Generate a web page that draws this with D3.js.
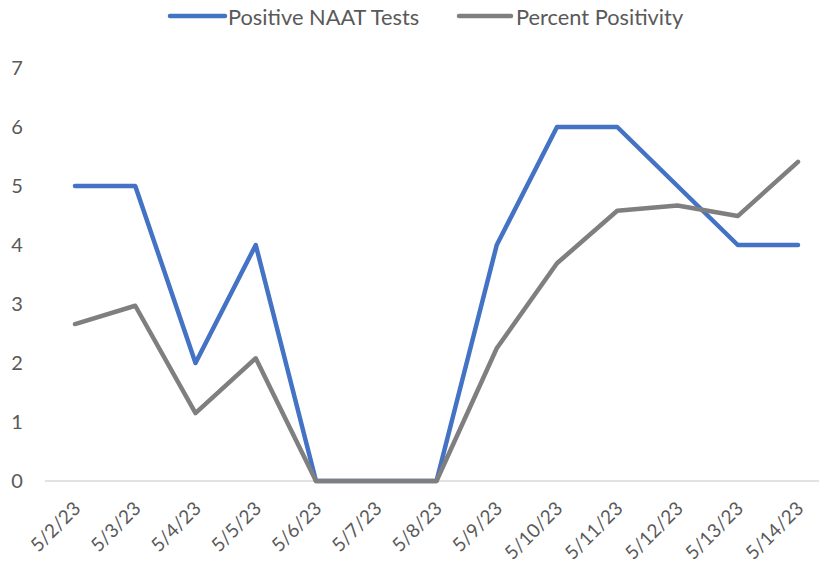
<!DOCTYPE html>
<html><head><meta charset="utf-8">
<script src="https://cdn.jsdelivr.net/npm/d3@7"></script>
<style>body{margin:0;background:#fff}svg{display:block}</style>
</head><body>
<svg id="c" width="819" height="571"></svg>
<script>
const categories = ["5/2/23","5/3/23","5/4/23","5/5/23","5/6/23","5/7/23","5/8/23","5/9/23","5/10/23","5/11/23","5/12/23","5/13/23","5/14/23"];
const positiveNAAT = [5,5,2,4,0,0,0,4,6,6,5,4,4];
const percentPositivity = [2.66,2.97,1.15,2.08,0,0,0,2.25,3.69,4.58,4.67,4.49,5.41];
const yTicks = [0,1,2,3,4,5,6,7];
const seriesNames = ["Positive NAAT Tests","Percent Positivity"];
const colors = ["#4472C4","#7F7F7F"];

const svg = d3.select("#c");
const font = "Lato, 'Open Sans', sans-serif";
const x = d3.scalePoint().domain(categories).range([75, 798]);
const y = d3.scaleLinear().domain([0,7]).range([481, 68]);

// baseline axis line
svg.append("line").attr("x1",45).attr("x2",828).attr("y1",y(0)).attr("y2",y(0))
  .attr("stroke","#D9D9D9").attr("stroke-width",1.5);

// y labels
svg.append("g").selectAll("text").data(yTicks).join("text")
  .attr("x",17).attr("y",d=>y(d)).attr("dy","0.35em").attr("text-anchor","middle")
  .attr("font-family",font).attr("font-size",20).attr("fill","#595959").text(d=>d);

// x labels
svg.append("g").selectAll("text").data(categories).join("text")
  .attr("transform",d=>`translate(${x(d)+2},${505}) rotate(-45)`)
  .attr("text-anchor","end").attr("dy","0.35em")
  .attr("font-family",font).attr("font-size",19).attr("fill","#595959").text(d=>d);

const line = d3.line().x((d,i)=>x(categories[i])).y(d=>y(d));
[positiveNAAT, percentPositivity].forEach((s,k)=>{
  svg.append("path").datum(s).attr("d",line).attr("fill","none")
    .attr("stroke",colors[k]).attr("stroke-width",4.5)
    .attr("stroke-linejoin","round").attr("stroke-linecap","round");
});

// legend
const leg = [{x1:170,x2:225,tx:228},{x1:459,x2:511,tx:516}];
leg.forEach((l,k)=>{
  svg.append("line").attr("x1",l.x1).attr("x2",l.x2).attr("y1",16).attr("y2",16)
    .attr("stroke",colors[k]).attr("stroke-width",4.5).attr("stroke-linecap","round");
  svg.append("text").attr("x",l.tx).attr("y",17).attr("dy","0.35em")
    .attr("font-family",font).attr("font-size",21.8).attr("fill","#595959").text(seriesNames[k]);
});
</script>
</body></html>
